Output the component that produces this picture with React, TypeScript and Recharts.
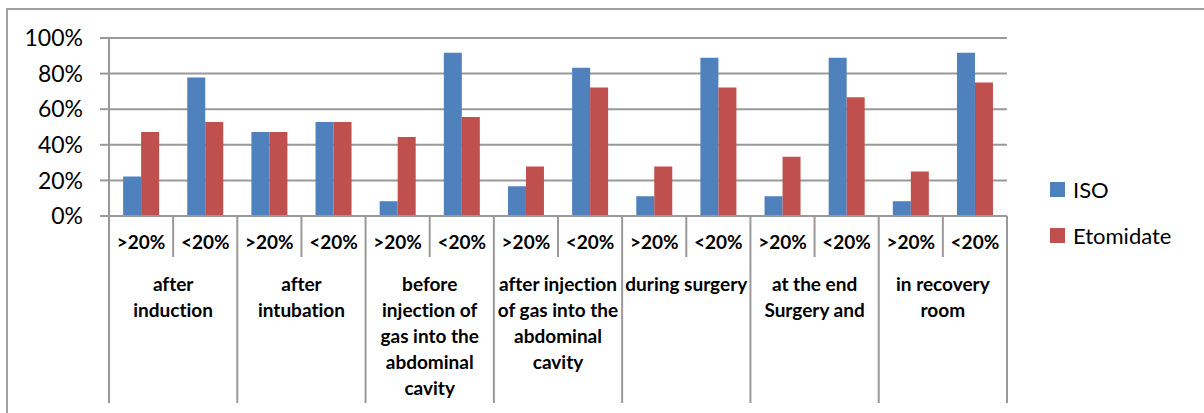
import { BarChart, Bar, XAxis, YAxis, CartesianGrid, Legend } from 'recharts';

const subLabels = ['>20%', '<20%', '>20%', '<20%', '>20%', '<20%', '>20%', '<20%', '>20%', '<20%', '>20%', '<20%', '>20%', '<20%'];
const groupLabels = [
  'after\ninduction',
  'after\nintubation',
  'before\ninjection of\ngas into the\nabdominal\ncavity',
  'after injection\nof gas into the\nabdominal\ncavity',
  'during surgery',
  'at the end\nSurgery and',
  'in recovery\nroom',
];
const seriesNames = ['ISO', 'Etomidate'];
const isoValues = [22.2, 77.8, 47.2, 52.8, 8.3, 91.7, 16.7, 83.3, 11.1, 88.9, 11.1, 88.9, 8.3, 91.7];
const etomidateValues = [47.2, 52.8, 47.2, 52.8, 44.4, 55.6, 27.8, 72.2, 27.8, 72.2, 33.3, 66.7, 25, 75];
const yTicks = [0, 20, 40, 60, 80, 100];

const data = subLabels.map((sub, i) => ({
  sub,
  group: groupLabels[Math.floor(i / 2)],
  iso: isoValues[i],
  etomidate: etomidateValues[i],
}));

const W = 1204;
const H = 413;
const margin = { top: 38, right: 197, left: 0, bottom: 10 };
const Y_AXIS_W = 109;
const PLOT_W = W - margin.left - margin.right - Y_AXIS_W;
const SUB_BW = PLOT_W / subLabels.length;
const GROUP_BW = PLOT_W / groupLabels.length;
const SUB_H = 41;
const GROUP_H = 146;
const LINE = '#999999';
const FONT = 'Lato, "Open Sans", sans-serif';
const textStyle = { fontVariantLigatures: 'none' as const, fontFeatureSettings: '"liga" 0, "dlig" 0' };

function SubTick(props: any) {
  const { x, y, payload, index } = props;
  return (
    <g>
      {index === 0 && <line x1={x - SUB_BW / 2} y1={y} x2={x - SUB_BW / 2} y2={y + SUB_H} stroke={LINE} strokeWidth={2} />}
      <line x1={x + SUB_BW / 2} y1={y} x2={x + SUB_BW / 2} y2={y + SUB_H} stroke={LINE} strokeWidth={2} />
      <text x={x} y={y + 33} textAnchor="middle" fontSize={19} fontWeight="bold" fill="#000" fontFamily={FONT} style={textStyle}>
        {payload.value}
      </text>
    </g>
  );
}

function GroupTick(props: any) {
  const { x, y, payload, index } = props;
  const lines = String(payload.value).split('\n');
  return (
    <g>
      {index === 0 && <line x1={x - GROUP_BW / 2} y1={y} x2={x - GROUP_BW / 2} y2={y + GROUP_H} stroke={LINE} strokeWidth={2} />}
      <line x1={x + GROUP_BW / 2} y1={y} x2={x + GROUP_BW / 2} y2={y + GROUP_H} stroke={LINE} strokeWidth={2} />
      <text textAnchor="middle" fontSize={19} fontWeight="bold" fill="#000" fontFamily={FONT} style={textStyle}>
        {lines.map((l, i) => (
          <tspan key={i} x={x} y={y + 34 + i * 26}>{l}</tspan>
        ))}
      </text>
    </g>
  );
}

function LegendContent(props: any) {
  const items = [...(props.payload || [])].sort(
    (a: any, b: any) => seriesNames.indexOf(a.value) - seriesNames.indexOf(b.value)
  );
  return (
    <div style={{ fontFamily: FONT }}>
      {items.map((entry: any) => (
        <div key={entry.value} style={{ display: 'flex', alignItems: 'center', height: 28, marginBottom: 18 }}>
          <span style={{ width: 15, height: 15, background: entry.color, marginRight: 8, display: 'inline-block', flexShrink: 0 }} />
          <span style={{ fontSize: 22, color: '#000', whiteSpace: 'nowrap' }}>{entry.value}</span>
        </div>
      ))}
    </div>
  );
}

export default function App() {
  return (
    <div style={{ position: 'absolute', left: 0, top: 0, width: W, height: H, background: '#fff', overflow: 'hidden' }}>
      <BarChart
        width={W}
        height={H}
        data={data}
        margin={margin}
        barCategoryGap="22%"
        barGap={0}
        style={{ fontFamily: FONT }}
      >
        <CartesianGrid xAxisId={0} vertical={false} stroke={LINE} strokeWidth={2} />
        <XAxis
          xAxisId={0}
          dataKey="sub"
          height={SUB_H}
          interval={0}
          tickSize={0}
          tickMargin={0}
          tickLine={false}
          axisLine={{ stroke: LINE, strokeWidth: 2 }}
          tick={<SubTick />}
        />
        <XAxis
          xAxisId={1}
          dataKey="group"
          allowDuplicatedCategory={false}
          height={GROUP_H}
          interval={0}
          tickSize={0}
          tickMargin={0}
          tickLine={false}
          axisLine={false}
          tick={<GroupTick />}
        />
        <YAxis
          width={Y_AXIS_W}
          domain={[0, 100]}
          ticks={yTicks}
          tickFormatter={(v) => `${v}%`}
          tickSize={9}
          tickMargin={17}
          axisLine={{ stroke: LINE, strokeWidth: 2 }}
          tickLine={{ stroke: LINE, strokeWidth: 2 }}
          tick={{ fontSize: 23, fill: '#000', fontFamily: FONT }}
        />
        <Legend
          layout="vertical"
          align="center"
          verticalAlign="middle"
          wrapperStyle={{ left: 1050, top: 175, width: 150 }}
          content={<LegendContent />}
        />
        <Bar xAxisId={0} dataKey="iso" name="ISO" fill="#4F81BD" isAnimationActive={false} />
        <Bar xAxisId={0} dataKey="etomidate" name="Etomidate" fill="#C0504D" isAnimationActive={false} />
      </BarChart>
      <div
        style={{
          position: 'absolute',
          left: 6,
          top: 8,
          right: -10,
          bottom: -10,
          borderLeft: '2px solid #a0a0a0',
          borderTop: '2px solid #a0a0a0',
          zIndex: 5,
          pointerEvents: 'none',
        }}
      />
    </div>
  );
}
